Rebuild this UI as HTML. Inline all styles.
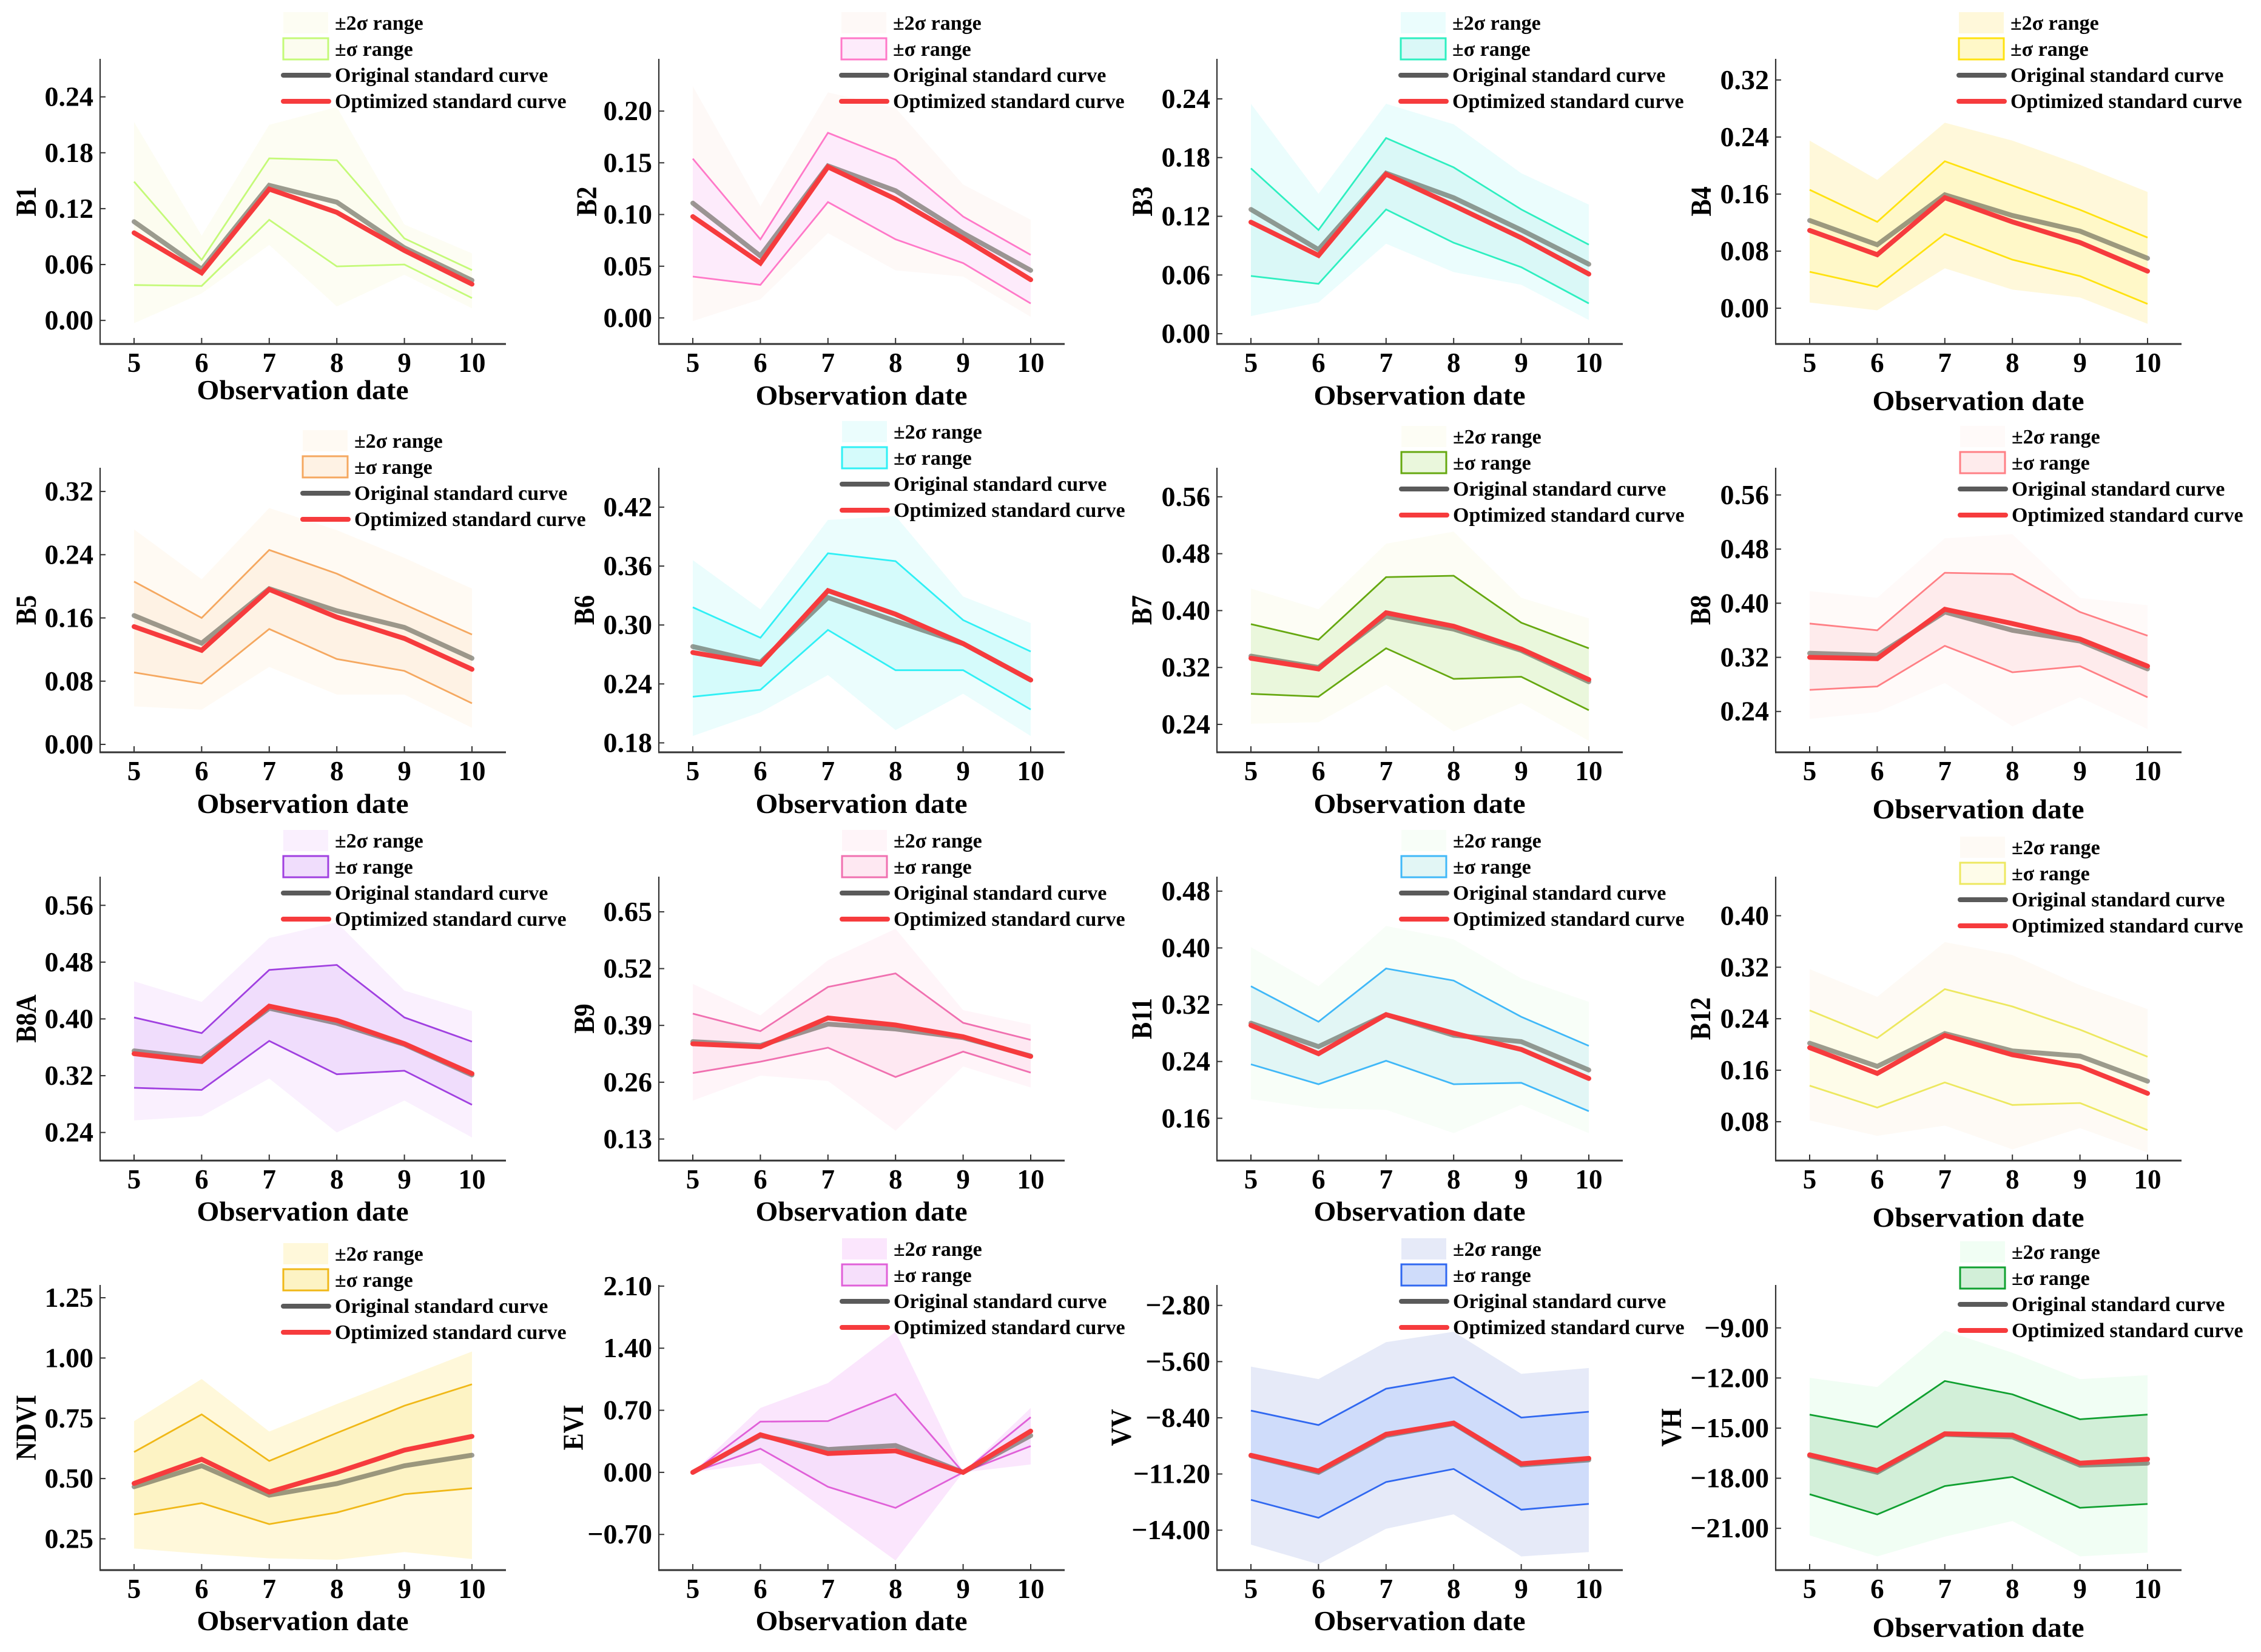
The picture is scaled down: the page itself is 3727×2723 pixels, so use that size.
<!DOCTYPE html>
<html lang="en">
<head>
<meta charset="utf-8">
<title>Standard curves by band</title>
<style>
html,body{margin:0;padding:0;background:#fff}
svg{display:block}
text{font-family:"Liberation Serif",serif;font-weight:bold;fill:#000}
</style>
</head>
<body>
<svg id="figure" xmlns="http://www.w3.org/2000/svg" width="3727" height="2723" viewBox="0 0 3727 2723">
<rect x="0" y="0" width="3727" height="2723" fill="#ffffff"></rect>
</svg>
<script>
const categories = [5, 6, 7, 8, 9, 10];

const b1Ticks = [0, 0.06, 0.12, 0.18, 0.24];
const b1Domain = [-0.0253, 0.2808];
const b1Upper2 = [0.213, 0.091, 0.210, 0.229, 0.103, 0.072];
const b1Lower2 = [-0.003, 0.029, 0.081, 0.015, 0.049, 0.013];
const b1Upper1 = [0.149, 0.065, 0.174, 0.172, 0.088, 0.054];
const b1Lower1 = [0.038, 0.037, 0.108, 0.058, 0.060, 0.024];
const b1Original = [0.106, 0.055, 0.145, 0.127, 0.078, 0.043];
const b1Optimized = [0.094, 0.051, 0.141, 0.116, 0.075, 0.039];

const b2Ticks = [0, 0.05, 0.10, 0.15, 0.20];
const b2Domain = [-0.0252, 0.2505];
const b2Upper2 = [0.224, 0.108, 0.218, 0.203, 0.129, 0.095];
const b2Lower2 = [-0.003, 0.018, 0.082, 0.046, 0.040, 0.001];
const b2Upper1 = [0.154, 0.076, 0.179, 0.153, 0.098, 0.061];
const b2Lower1 = [0.040, 0.032, 0.112, 0.076, 0.053, 0.014];
const b2Original = [0.111, 0.060, 0.147, 0.123, 0.082, 0.046];
const b2Optimized = [0.098, 0.053, 0.146, 0.115, 0.077, 0.037];

const b3Ticks = [0, 0.06, 0.12, 0.18, 0.24];
const b3Domain = [-0.0105, 0.2809];
const b3Upper2 = [0.235, 0.143, 0.235, 0.214, 0.164, 0.132];
const b3Lower2 = [0.018, 0.032, 0.092, 0.063, 0.050, 0.014];
const b3Upper1 = [0.169, 0.106, 0.200, 0.170, 0.127, 0.091];
const b3Lower1 = [0.059, 0.051, 0.127, 0.093, 0.068, 0.031];
const b3Original = [0.127, 0.086, 0.164, 0.139, 0.106, 0.071];
const b3Optimized = [0.114, 0.080, 0.163, 0.131, 0.098, 0.061];

const b4Ticks = [0, 0.08, 0.16, 0.24, 0.32];
const b4Domain = [-0.0502, 0.3496];
const b4Upper2 = [0.235, 0.180, 0.260, 0.235, 0.201, 0.163];
const b4Lower2 = [0.008, -0.003, 0.056, 0.026, 0.015, -0.022];
const b4Upper1 = [0.166, 0.121, 0.206, 0.172, 0.138, 0.099];
const b4Lower1 = [0.051, 0.030, 0.104, 0.068, 0.045, 0.006];
const b4Original = [0.123, 0.089, 0.159, 0.130, 0.108, 0.070];
const b4Optimized = [0.109, 0.075, 0.155, 0.121, 0.092, 0.052];

const b5Ticks = [0, 0.08, 0.16, 0.24, 0.32];
const b5Domain = [-0.010, 0.350];
const b5Upper2 = [0.272, 0.209, 0.299, 0.271, 0.236, 0.197];
const b5Lower2 = [0.048, 0.044, 0.098, 0.063, 0.063, 0.021];
const b5Upper1 = [0.206, 0.160, 0.246, 0.216, 0.177, 0.139];
const b5Lower1 = [0.091, 0.077, 0.146, 0.108, 0.093, 0.052];
const b5Original = [0.163, 0.128, 0.197, 0.169, 0.148, 0.109];
const b5Optimized = [0.149, 0.119, 0.196, 0.161, 0.134, 0.095];

const b6Ticks = [0.18, 0.24, 0.30, 0.36, 0.42];
const b6Domain = [0.1704, 0.4601];
const b6Upper2 = [0.366, 0.316, 0.407, 0.411, 0.329, 0.302];
const b6Lower2 = [0.187, 0.211, 0.249, 0.193, 0.230, 0.187];
const b6Upper1 = [0.318, 0.287, 0.373, 0.365, 0.305, 0.273];
const b6Lower1 = [0.227, 0.234, 0.295, 0.254, 0.254, 0.214];
const b6Original = [0.278, 0.262, 0.328, 0.304, 0.281, 0.244];
const b6Optimized = [0.272, 0.260, 0.335, 0.311, 0.281, 0.244];

const b7Ticks = [0.24, 0.32, 0.40, 0.48, 0.56];
const b7Domain = [0.2008, 0.6008];
const b7Upper2 = [0.431, 0.402, 0.494, 0.511, 0.418, 0.389];
const b7Lower2 = [0.241, 0.243, 0.296, 0.230, 0.270, 0.217];
const b7Upper1 = [0.381, 0.359, 0.447, 0.449, 0.383, 0.347];
const b7Lower1 = [0.283, 0.279, 0.347, 0.304, 0.307, 0.260];
const b7Original = [0.336, 0.320, 0.392, 0.374, 0.344, 0.300];
const b7Optimized = [0.333, 0.318, 0.397, 0.378, 0.346, 0.303];

const b8Ticks = [0.24, 0.32, 0.40, 0.48, 0.56];
const b8Domain = [0.1797, 0.6002];
const b8Upper2 = [0.418, 0.408, 0.496, 0.502, 0.408, 0.397];
const b8Lower2 = [0.229, 0.239, 0.282, 0.218, 0.261, 0.214];
const b8Upper1 = [0.370, 0.360, 0.445, 0.443, 0.387, 0.352];
const b8Lower1 = [0.272, 0.277, 0.337, 0.298, 0.307, 0.261];
const b8Original = [0.326, 0.323, 0.387, 0.360, 0.344, 0.303];
const b8Optimized = [0.320, 0.318, 0.391, 0.370, 0.347, 0.307];

const b8aTicks = [0.24, 0.32, 0.40, 0.48, 0.56];
const b8aDomain = [0.2004, 0.6004];
const b8aUpper2 = [0.453, 0.424, 0.514, 0.536, 0.440, 0.411];
const b8aLower2 = [0.257, 0.263, 0.316, 0.240, 0.285, 0.233];
const b8aUpper1 = [0.402, 0.380, 0.469, 0.476, 0.402, 0.368];
const b8aLower1 = [0.303, 0.300, 0.369, 0.322, 0.327, 0.279];
const b8aOriginal = [0.355, 0.344, 0.415, 0.394, 0.364, 0.321];
const b8aOptimized = [0.351, 0.340, 0.418, 0.398, 0.365, 0.323];

const b9Ticks = [0.13, 0.26, 0.39, 0.52, 0.65];
const b9Domain = [0.0807, 0.7304];
const b9Upper2 = [0.485, 0.413, 0.539, 0.611, 0.425, 0.392];
const b9Lower2 = [0.218, 0.275, 0.263, 0.149, 0.296, 0.248];
const b9Upper1 = [0.417, 0.377, 0.478, 0.509, 0.396, 0.357];
const b9Lower1 = [0.281, 0.307, 0.339, 0.272, 0.330, 0.282];
const b9Original = [0.353, 0.344, 0.393, 0.382, 0.362, 0.320];
const b9Optimized = [0.348, 0.341, 0.407, 0.391, 0.364, 0.319];

const b11Ticks = [0.16, 0.24, 0.32, 0.40, 0.48];
const b11Domain = [0.1004, 0.5004];
const b11Upper2 = [0.401, 0.346, 0.431, 0.412, 0.357, 0.324];
const b11Lower2 = [0.187, 0.174, 0.172, 0.139, 0.179, 0.139];
const b11Upper1 = [0.346, 0.296, 0.371, 0.354, 0.303, 0.262];
const b11Lower1 = [0.236, 0.208, 0.241, 0.208, 0.210, 0.170];
const b11Original = [0.294, 0.261, 0.306, 0.277, 0.268, 0.228];
const b11Optimized = [0.291, 0.251, 0.306, 0.280, 0.257, 0.216];

const b12Ticks = [0.08, 0.16, 0.24, 0.32, 0.40];
const b12Domain = [0.0196, 0.4607];
const b12Upper2 = [0.317, 0.274, 0.359, 0.339, 0.292, 0.255];
const b12Lower2 = [0.082, 0.058, 0.074, 0.037, 0.070, 0.032];
const b12Upper1 = [0.253, 0.210, 0.286, 0.259, 0.223, 0.181];
const b12Lower1 = [0.136, 0.102, 0.141, 0.106, 0.109, 0.067];
const b12Original = [0.202, 0.166, 0.217, 0.190, 0.182, 0.143];
const b12Optimized = [0.195, 0.155, 0.214, 0.184, 0.166, 0.124];

const ndviTicks = [0.25, 0.50, 0.75, 1.00, 1.25];
const ndviDomain = [0.1203, 1.303];
const ndviUpper2 = [0.738, 0.913, 0.695, 0.809, 0.918, 1.027];
const ndviLower2 = [0.210, 0.188, 0.169, 0.163, 0.195, 0.166];
const ndviUpper1 = [0.610, 0.766, 0.573, 0.689, 0.802, 0.891];
const ndviLower1 = [0.351, 0.398, 0.311, 0.359, 0.435, 0.460];
const ndviOriginal = [0.466, 0.553, 0.431, 0.479, 0.553, 0.597];
const ndviOptimized = [0.480, 0.580, 0.444, 0.526, 0.618, 0.675];

const eviTicks = [-0.70, 0, 0.70, 1.40, 2.10];
const eviDomain = [-1.102, 2.113];
const eviUpper2 = [0, 0.726, 1.007, 1.585, 0, 0.726];
const eviLower2 = [0, 0.104, -0.444, -0.993, 0, 0.089];
const eviUpper1 = [0, 0.572, 0.578, 0.883, 0, 0.622];
const eviLower1 = [0, 0.267, -0.163, -0.400, 0, 0.296];
const eviOriginal = [0, 0.415, 0.258, 0.302, 0, 0.415];
const eviOptimized = [0, 0.424, 0.213, 0.243, 0, 0.465];

const vvTicks = [-14.00, -11.20, -8.40, -5.60, -2.80];
const vvDomain = [-15.99, -1.78];
const vvUpper2 = [-5.85, -6.47, -4.63, -4.11, -6.21, -5.92];
const vvLower2 = [-14.72, -15.70, -13.93, -13.21, -15.31, -15.09];
const vvUpper1 = [-8.04, -8.76, -6.95, -6.38, -8.39, -8.10];
const vvLower1 = [-12.49, -13.38, -11.60, -10.95, -12.98, -12.69];
const vvOriginal = [-10.29, -11.12, -9.28, -8.69, -10.75, -10.50];
const vvOptimized = [-10.27, -11.05, -9.22, -8.66, -10.69, -10.42];

const vhTicks = [-21.00, -18.00, -15.00, -12.00, -9.00];
const vhDomain = [-23.5, -6.43];
const vhUpper2 = [-11.99, -12.54, -9.16, -10.49, -12.07, -11.83];
const vhLower2 = [-21.42, -22.68, -21.50, -20.56, -22.68, -22.45];
const vhUpper1 = [-14.19, -14.94, -12.18, -12.98, -14.47, -14.19];
const vhLower1 = [-18.96, -20.17, -18.47, -17.92, -19.77, -19.54];
const vhOriginal = [-16.66, -17.65, -15.37, -15.53, -17.22, -17.10];
const vhOptimized = [-16.60, -17.54, -15.34, -15.42, -17.10, -16.86];

const columnLefts = [165, 1086, 2006, 2927];
const rowTops = [97, 771, 1445, 2118];
const rowBottoms = [567, 1240, 1913, 2588];

const panels = [
  {label:'B1', col:0, row:0, ticks:b1Ticks, domain:b1Domain, up2:b1Upper2, lo2:b1Lower2, up1:b1Upper1, lo1:b1Lower1, orig:b1Original, opt:b1Optimized, outer:'#FDFDF3', inner:'#FCFCEF', line:'#C4FA78', lx:467, ly:38, xl:643, yl:43},
  {label:'B2', col:1, row:0, ticks:b2Ticks, domain:b2Domain, up2:b2Upper2, lo2:b2Lower2, up1:b2Upper1, lo1:b2Lower1, orig:b2Original, opt:b2Optimized, outer:'#FEF9F7', inner:'#FDEBFB', line:'#FF78C8', lx:1387, ly:38, xl:652, yl:967},
  {label:'B3', col:2, row:0, ticks:b3Ticks, domain:b3Domain, up2:b3Upper2, lo2:b3Lower2, up1:b3Upper1, lo1:b3Lower1, orig:b3Original, opt:b3Optimized, outer:'#EBFDFD', inner:'#DAF8F7', line:'#2EEFC0', lx:2309, ly:38, xl:652, yl:1883},
  {label:'B4', col:3, row:0, ticks:b4Ticks, domain:b4Domain, up2:b4Upper2, lo2:b4Lower2, up1:b4Upper1, lo1:b4Lower1, orig:b4Original, opt:b4Optimized, outer:'#FFF8DA', inner:'#FFF8C8', line:'#FFE210', lx:3229, ly:38, xl:661, yl:2804},
  {label:'B5', col:0, row:1, ticks:b5Ticks, domain:b5Domain, up2:b5Upper2, lo2:b5Lower2, up1:b5Upper1, lo1:b5Lower1, orig:b5Original, opt:b5Optimized, outer:'#FFFAF3', inner:'#FEF2E4', line:'#F5A860', lx:499, ly:727, xl:1325, yl:43},
  {label:'B6', col:1, row:1, ticks:b6Ticks, domain:b6Domain, up2:b6Upper2, lo2:b6Lower2, up1:b6Upper1, lo1:b6Lower1, orig:b6Original, opt:b6Optimized, outer:'#EBFDFD', inner:'#D5FBFB', line:'#30F0F5', lx:1388, ly:712, xl:1325, yl:963},
  {label:'B7', col:2, row:1, ticks:b7Ticks, domain:b7Domain, up2:b7Upper2, lo2:b7Lower2, up1:b7Upper1, lo1:b7Lower1, orig:b7Original, opt:b7Optimized, outer:'#FDFDF5', inner:'#EAF7DC', line:'#66A810', lx:2310, ly:720, xl:1325, yl:1882},
  {label:'B8', col:3, row:1, ticks:b8Ticks, domain:b8Domain, up2:b8Upper2, lo2:b8Lower2, up1:b8Upper1, lo1:b8Lower1, orig:b8Original, opt:b8Optimized, outer:'#FFFAF9', inner:'#FEEBEC', line:'#FF7F85', lx:3231, ly:720, xl:1334, yl:2803},
  {label:'B8A', col:0, row:2, ticks:b8aTicks, domain:b8aDomain, up2:b8aUpper2, lo2:b8aLower2, up1:b8aUpper1, lo1:b8aLower1, orig:b8aOriginal, opt:b8aOptimized, outer:'#FAF0FE', inner:'#F0DDFC', line:'#A040E0', lx:467, ly:1386, xl:1997, yl:43},
  {label:'B9', col:1, row:2, ticks:b9Ticks, domain:b9Domain, up2:b9Upper2, lo2:b9Lower2, up1:b9Upper1, lo1:b9Lower1, orig:b9Original, opt:b9Optimized, outer:'#FFF5F9', inner:'#FEE8F2', line:'#F070B0', lx:1388, ly:1386, xl:1997, yl:963},
  {label:'B11', col:2, row:2, ticks:b11Ticks, domain:b11Domain, up2:b11Upper2, lo2:b11Lower2, up1:b11Upper1, lo1:b11Lower1, orig:b11Original, opt:b11Optimized, outer:'#F8FEF8', inner:'#E2F6F5', line:'#40B8F8', lx:2310, ly:1386, xl:1997, yl:1882},
  {label:'B12', col:3, row:2, ticks:b12Ticks, domain:b12Domain, up2:b12Upper2, lo2:b12Lower2, up1:b12Upper1, lo1:b12Lower1, orig:b12Original, opt:b12Optimized, outer:'#FEFAF5', inner:'#FEFCE9', line:'#EDE860', lx:3231, ly:1397, xl:2007, yl:2803},
  {label:'NDVI', col:0, row:3, ticks:ndviTicks, domain:ndviDomain, up2:ndviUpper2, lo2:ndviLower2, up1:ndviUpper1, lo1:ndviLower1, orig:ndviOriginal, opt:ndviOptimized, outer:'#FFF8DA', inner:'#FDF3C4', line:'#F0B818', lx:467, ly:2067, xl:2672, yl:43},
  {label:'EVI', col:1, row:3, ticks:eviTicks, domain:eviDomain, up2:eviUpper2, lo2:eviLower2, up1:eviUpper1, lo1:eviLower1, orig:eviOriginal, opt:eviOptimized, outer:'#FBE6FD', inner:'#F6DFFB', line:'#E060D8', lx:1388, ly:2059, xl:2672, yl:945},
  {label:'VV', col:2, row:3, ticks:vvTicks, domain:vvDomain, up2:vvUpper2, lo2:vvLower2, up1:vvUpper1, lo1:vvLower1, orig:vvOriginal, opt:vvOptimized, outer:'#E6EAF8', inner:'#CFDCFA', line:'#3068F0', lx:2310, ly:2059, xl:2672, yl:1848},
  {label:'VH', col:3, row:3, ticks:vhTicks, domain:vhDomain, up2:vhUpper2, lo2:vhLower2, up1:vhUpper1, lo1:vhLower1, orig:vhOriginal, opt:vhOptimized, outer:'#F1FEF4', inner:'#D2EFD8', line:'#10A030', lx:3231, ly:2064, xl:2683, yl:2755}
];

const SVG_NS = 'http://www.w3.org/2000/svg';
const root = document.getElementById('figure');
const axisColor = '#333333';

function mk(tag, attrs, parent, content) {
  const node = document.createElementNS(SVG_NS, tag);
  Object.keys(attrs).forEach(function (k) { node.setAttribute(k, attrs[k]); });
  if (content !== undefined) node.textContent = content;
  parent.appendChild(node);
  return node;
}

function formatTick(v) {
  const s = Math.abs(v).toFixed(2);
  return v < 0 ? '\u2212' + s : s;
}

function drawPanel(p) {
  const slug = p.label.toLowerCase();
  const left = columnLefts[p.col];
  const top = rowTops[p.row];
  const bottom = rowBottoms[p.row];
  const right = left + 669;
  const xFirst = left + 56;
  const xStep = 111.4;
  const xScale = function (i) { return xFirst + i * xStep; };
  const yScale = function (v) {
    return bottom - (v - p.domain[0]) / (p.domain[1] - p.domain[0]) * (bottom - top);
  };
  const pts = function (arr) {
    return arr.map(function (v, i) { return xScale(i).toFixed(1) + ',' + yScale(v).toFixed(1); });
  };

  const g = mk('g', {}, root);
  
  

  const outerBand = mk('polygon', {points: pts(p.up2).concat(pts(p.lo2).reverse()).join(' '), fill: p.outer}, g);
  
  

  const innerBand = mk('polygon', {points: pts(p.up1).concat(pts(p.lo1).reverse()).join(' '), fill: p.inner}, g);
  
  

  const upperLine = mk('polyline', {points: pts(p.up1).join(' '), fill: 'none', stroke: p.line, 'stroke-width': 2.8}, g);
  
  

  const lowerLine = mk('polyline', {points: pts(p.lo1).join(' '), fill: 'none', stroke: p.line, 'stroke-width': 2.8}, g);
  
  

  const origLine = mk('polyline', {points: pts(p.orig).join(' '), fill: 'none', stroke: '#555548', 'stroke-opacity': 0.58, 'stroke-width': 8, 'stroke-linecap': 'round'}, g);
  
  

  const optLine = mk('polyline', {points: pts(p.opt).join(' '), fill: 'none', stroke: '#F63B3D', 'stroke-width': 8, 'stroke-linecap': 'round'}, g);
  
  

  const yAxis = mk('line', {x1: left, y1: top, x2: left, y2: bottom, stroke: axisColor, 'stroke-width': 2.2}, g);
  
  

  const xAxis = mk('line', {x1: left - 1, y1: bottom, x2: right, y2: bottom, stroke: axisColor, 'stroke-width': 3}, g);
  
  

  categories.forEach(function (c, i) {
    const x = xScale(i);
    const xt = mk('line', {x1: x, y1: bottom, x2: x, y2: bottom - 10, stroke: axisColor, 'stroke-width': 2}, g);
    
    
    const xn = mk('text', {x: x, y: bottom + 46, 'text-anchor': 'middle', 'font-size': 45}, g, String(c));
    
    
  });

  p.ticks.forEach(function (v) {
    const y = yScale(v);
    const yt = mk('line', {x1: left, y1: y, x2: left + 9, y2: y, stroke: axisColor, 'stroke-width': 2}, g);
    
    
    const yn = mk('text', {x: left - 11, y: y + 15, 'text-anchor': 'end', 'font-size': 46}, g, formatTick(v));
    
    
  });

  const xTitle = mk('text', {x: left + 334, y: p.xl + 15, 'text-anchor': 'middle', 'font-size': 46, textLength: 349, lengthAdjust: 'spacingAndGlyphs'}, g, 'Observation date');
  
  

  const yMid = (top + bottom) / 2;
  const yTitle = mk('text', {x: 0, y: 0, transform: 'translate(' + (p.yl + 16) + ',' + yMid + ') rotate(-90) scale(0.88,1)', 'text-anchor': 'middle', 'font-size': 48}, g, p.label);
  
  

  const legend = mk('g', {}, g);
  
  

  const rowGap = 43;
  const lx = p.lx;
  const ly = p.ly;
  const tx = lx + 85;
  const font = 34;

  const swatch2 = mk('rect', {x: lx, y: ly - 18, width: 74, height: 35, fill: p.outer}, legend);
  
  
  const text2 = mk('text', {x: tx, y: ly + 11, 'font-size': font}, legend, '\u00B12\u03C3 range');
  
  

  const swatch1 = mk('rect', {x: lx, y: ly + rowGap - 18, width: 74, height: 35, fill: p.inner, stroke: p.line, 'stroke-width': 3}, legend);
  
  
  const text1 = mk('text', {x: tx, y: ly + rowGap + 11, 'font-size': font}, legend, '\u00B1\u03C3 range');
  
  

  const keyOrig = mk('line', {x1: lx, y1: ly + 2 * rowGap, x2: lx + 75, y2: ly + 2 * rowGap, stroke: '#5A5A5A', 'stroke-width': 8, 'stroke-linecap': 'round'}, legend);
  
  
  const textOrig = mk('text', {x: tx, y: ly + 2 * rowGap + 11, 'font-size': font}, legend, 'Original standard curve');
  
  

  const keyOpt = mk('line', {x1: lx, y1: ly + 3 * rowGap, x2: lx + 75, y2: ly + 3 * rowGap, stroke: '#F63B3D', 'stroke-width': 8, 'stroke-linecap': 'round'}, legend);
  
  
  const textOpt = mk('text', {x: tx, y: ly + 3 * rowGap + 11, 'font-size': font}, legend, 'Optimized standard curve');
  
  
}

panels.forEach(drawPanel);
</script>
</body>
</html>
